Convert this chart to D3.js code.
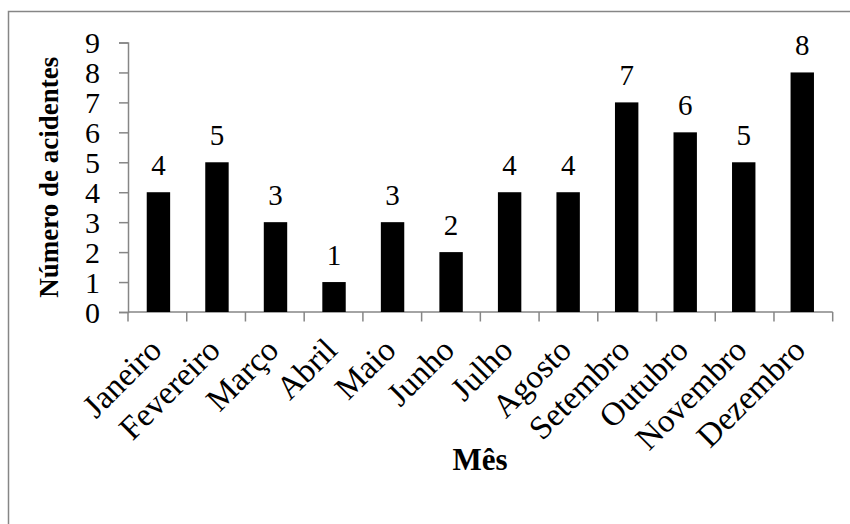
<!DOCTYPE html>
<html>
<head>
<meta charset="utf-8">
<script src="https://cdn.jsdelivr.net/npm/d3@7"></script>
<style>
  html, body { margin: 0; padding: 0; background: #fff; }
  svg text { font-family: "Liberation Serif", "Times New Roman", Times, serif; fill: #000; }
</style>
</head>
<body>
<svg id="chart" width="850" height="524"></svg>
<script>
// Monthly accident counts
const months = ["Janeiro", "Fevereiro", "Março", "Abril", "Maio", "Junho",
                "Julho", "Agosto", "Setembro", "Outubro", "Novembro", "Dezembro"];
const accidents = [4, 5, 3, 1, 3, 2, 4, 4, 7, 6, 5, 8];
const yTicks = [0, 1, 2, 3, 4, 5, 6, 7, 8, 9];
const yTitle = "Número de acidentes";
const xTitle = "Mês";

const svg = d3.select("#chart");
const axisColor = "#868686";

// Chart frame
svg.append("rect")
  .attr("x", 8.5).attr("y", 11.5)
  .attr("width", 900).attr("height", 600)
  .attr("fill", "none")
  .attr("stroke", axisColor)
  .attr("stroke-width", 1.5);

const plot = { left: 128, right: 832.7, top: 42.5, bottom: 312 };

const x = d3.scaleBand()
  .domain(months)
  .range([plot.left, plot.right])
  .paddingInner(0.6)
  .paddingOuter(0.32);

// Band boundaries for the category ticks
const step = (plot.right - plot.left) / months.length;

const y = d3.scaleLinear()
  .domain([0, 9])
  .range([plot.bottom, plot.top]);

// Y axis
const yAxis = svg.append("g")
  .attr("transform", `translate(${plot.left},0)`)
  .call(d3.axisLeft(y).tickValues(yTicks).tickSize(9).tickPadding(19).tickFormat(d3.format("d")));
yAxis.attr("font-family", null).attr("font-size", null);
yAxis.select(".domain").attr("stroke", axisColor).attr("stroke-width", 1.5);
yAxis.selectAll(".tick line").attr("stroke", axisColor).attr("stroke-width", 1.5);
yAxis.selectAll(".tick text")
  .style("font-size", "30px")
  .attr("dy", "0.34em");

// X axis line and ticks at category boundaries
const xAxisG = svg.append("g");
xAxisG.append("line")
  .attr("x1", plot.left).attr("x2", plot.right)
  .attr("y1", plot.bottom).attr("y2", plot.bottom)
  .attr("stroke", axisColor).attr("stroke-width", 1.5);
xAxisG.selectAll("line.tick")
  .data(d3.range(months.length + 1))
  .join("line")
  .attr("class", "tick")
  .attr("x1", i => plot.left + i * step).attr("x2", i => plot.left + i * step)
  .attr("y1", plot.bottom).attr("y2", plot.bottom + 9.5)
  .attr("stroke", axisColor).attr("stroke-width", 1.5);

// Month labels, rotated
xAxisG.selectAll("text.month")
  .data(months)
  .join("text")
  .attr("class", "month")
  .attr("text-anchor", "end")
  .attr("transform", d => `translate(${x(d) + x.bandwidth() / 2 + 5},${plot.bottom + 40}) rotate(-45)`)
  .style("font-size", "33px")
  .text(d => d);

// Bars
svg.append("g")
  .selectAll("rect")
  .data(accidents)
  .join("rect")
  .attr("x", (d, i) => x(months[i]))
  .attr("y", d => y(d))
  .attr("width", x.bandwidth())
  .attr("height", d => y(0) - y(d))
  .attr("fill", "#000");

// Value labels
svg.append("g")
  .selectAll("text")
  .data(accidents)
  .join("text")
  .attr("x", (d, i) => x(months[i]) + x.bandwidth() / 2)
  .attr("y", d => y(d) - 17)
  .attr("text-anchor", "middle")
  .style("font-size", "29px")
  .text(d => d);

// Axis titles
svg.append("text")
  .attr("transform", `translate(58,${(plot.top + plot.bottom) / 2}) rotate(-90)`)
  .attr("text-anchor", "middle")
  .style("font-size", "27px")
  .style("font-weight", "bold")
  .text(yTitle);

svg.append("text")
  .attr("x", 480)
  .attr("y", 470)
  .attr("text-anchor", "middle")
  .style("font-size", "31px")
  .style("font-weight", "bold")
  .text(xTitle);
</script>
</body>
</html>
